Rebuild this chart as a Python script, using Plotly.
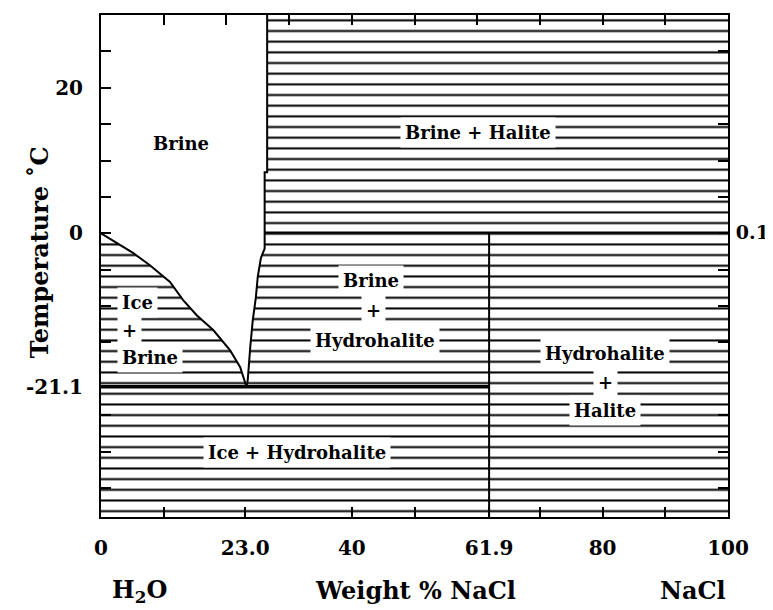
import plotly.graph_objects as go

# ---------------- data (wt% NaCl, temperature in °C) ----------------
X_RANGE = [0, 100]
Y_RANGE = [-39, 30]

# ice liquidus: freezing curve from pure water to the eutectic
ice_liq_x = [0, 1.9, 5.1, 7.8, 11.0, 13.1, 15.3, 17.9, 20.6, 22.2, 23.2]
ice_liq_y = [0, -1.0, -2.7, -4.4, -6.7, -9.2, -11.3, -13.3, -16.1, -18.4, -21.1]

# salt liquidus: hydrohalite (below 0.1 °C) then halite saturation
salt_liq_x = [23.2, 23.4, 23.8, 24.2, 24.7, 25.0, 25.5, 26.1, 26.1, 26.5, 26.5]
salt_liq_y = [-21.1, -20.2, -15.7, -12.0, -8.8, -6.0, -3.4, -2.1, 8.4, 8.4, 30]

EUTECTIC_T = -21.1
PERITECTIC_T = 0.1
HYDROHALITE_X = 61.9

# tick labels
x_tickvals = [0, 23.0, 40, 61.9, 80, 100]
x_ticktext = ["0", "23.0", "40", "61.9", "80", "100"]
x_minor_ticks = [10, 50, 70, 90]
top_ticks = [10, 20, 30, 40, 50, 60, 70, 80, 90]
y_tickvals = [20, 0, -21.1]
y_ticktext = ["20", "0", "-21.1"]
y_minor_ticks = [-35, -30, -25, -15, -10, -5, 5, 10, 15, 25]
right_tickvals = [0.1]
right_ticktext = ["0.1"]

# field labels: (text, x, y, xanchor, white box)
field_labels = [
    ("Brine", 12.8, 12.4, "center", False),
    ("Brine + Halite", 60.1, 13.9, "center", True),
    ("Ice", 2.5, -9.5, "left", True),
    ("+", 2.5, -13.3, "left", True),
    ("Brine", 2.5, -17.1, "left", True),
    ("Brine", 43.1, -6.5, "center", True),
    ("+", 43.4, -10.6, "center", True),
    ("Hydrohalite", 43.7, -14.7, "center", True),
    ("Hydrohalite", 80.4, -16.5, "center", True),
    ("+", 80.4, -20.5, "center", True),
    ("Halite", 80.4, -24.3, "center", True),
    ("Ice + Hydrohalite", 31.3, -30.1, "center", True),
]

FONT = "DejaVu Serif"

fig = go.Figure()

# hatched background (two-phase fields)
fig.add_trace(go.Scatter(
    x=[X_RANGE[0], X_RANGE[1], X_RANGE[1], X_RANGE[0], X_RANGE[0]],
    y=[Y_RANGE[0], Y_RANGE[0], Y_RANGE[1], Y_RANGE[1], Y_RANGE[0]],
    fill="toself", fillcolor="white", mode="none",
    fillpattern=dict(shape="-", size=10.67, solidity=0.19,
                     fgcolor="black", bgcolor="white", fillmode="replace"),
    hoverinfo="skip", showlegend=False))

# single-phase brine field (white)
brine_x = ice_liq_x + salt_liq_x[1:] + [X_RANGE[0]]
brine_y = ice_liq_y + salt_liq_y[1:] + [Y_RANGE[1]]
fig.add_trace(go.Scatter(x=brine_x, y=brine_y, fill="toself", fillcolor="white",
                         mode="none", hoverinfo="skip", showlegend=False))

line = dict(color="black", width=2)
fig.add_trace(go.Scatter(x=ice_liq_x, y=ice_liq_y, mode="lines", line=line, showlegend=False))
fig.add_trace(go.Scatter(x=salt_liq_x, y=salt_liq_y, mode="lines", line=line, showlegend=False))
fig.add_trace(go.Scatter(x=[X_RANGE[0], HYDROHALITE_X], y=[EUTECTIC_T, EUTECTIC_T], mode="lines",
                         line=dict(color="black", width=3.5), showlegend=False))
fig.add_trace(go.Scatter(x=[HYDROHALITE_X, HYDROHALITE_X], y=[Y_RANGE[0], PERITECTIC_T], mode="lines",
                         line=line, showlegend=False))
fig.add_trace(go.Scatter(x=[salt_liq_x[7], X_RANGE[1]], y=[PERITECTIC_T, PERITECTIC_T], mode="lines",
                         line=line, showlegend=False, xaxis="x2", yaxis="y2"))

for text, x, y, anchor, boxed in field_labels:
    fig.add_annotation(x=x, y=y, text=text, showarrow=False, xanchor=anchor, yanchor="middle",
                       font=dict(family=FONT, size=18, color="black", weight="bold"),
                       bgcolor="white" if boxed else "rgba(0,0,0,0)", borderpad=4)

big = dict(family=FONT, size=24, color="black", weight="bold")
fig.add_annotation(x=-0.123, y=0.528, xref="paper", yref="paper", text="Temperature ˚C",
                   textangle=-90, showarrow=False, font=big)
fig.add_annotation(x=0.014, y=-0.147, xref="paper", yref="paper", text="H<sub>2</sub>O",
                   showarrow=False, font=big, yanchor="middle")
fig.add_annotation(x=0.502, y=-0.147, xref="paper", yref="paper", text="Weight % NaCl",
                   showarrow=False, font=big, yanchor="middle")
fig.add_annotation(x=1.0, y=-0.147, xref="paper", yref="paper", text="NaCl",
                   showarrow=False, font=big, yanchor="middle")

tickfont = dict(family=FONT, size=20, color="black", weight="bold")
common = dict(showline=True, linewidth=2, linecolor="black", showgrid=False, zeroline=False,
              ticks="inside", ticklen=10, tickwidth=2, tickcolor="black")
minor = dict(ticks="inside", ticklen=10, tickwidth=2, tickcolor="black", showgrid=False)

# the page body adds an 8px offset, so the figure is 8px smaller and margins compensate
fig.update_layout(
    width=765, height=602,
    margin=dict(l=93, r=45, t=7, b=93, autoexpand=False),
    paper_bgcolor="white", plot_bgcolor="white",
    showlegend=False,
    xaxis=dict(range=X_RANGE, tickmode="array", tickvals=x_tickvals, ticktext=x_ticktext,
               minor=dict(tickvals=x_minor_ticks, **minor), ticklabelstandoff=12,
               tickfont=tickfont, **common),
    yaxis=dict(range=Y_RANGE, tickmode="array", tickvals=y_tickvals, ticktext=y_ticktext,
               minor=dict(tickvals=y_minor_ticks, **minor), ticklabelstandoff=12,
               tickfont=tickfont, **common),
    xaxis2=dict(range=X_RANGE, overlaying="x", side="top", anchor="y2", tickmode="array",
                tickvals=top_ticks, showticklabels=False, **common),
    yaxis2=dict(range=Y_RANGE, overlaying="y", side="right", anchor="x2", tickmode="array",
                tickvals=right_tickvals, ticktext=right_ticktext,
                minor=dict(tickvals=y_minor_ticks, **minor), ticklabelstandoff=2,
                tickfont=dict(family=FONT, size=19, color="black", weight="bold"), **common),
)

fig.write_html("out.html")
